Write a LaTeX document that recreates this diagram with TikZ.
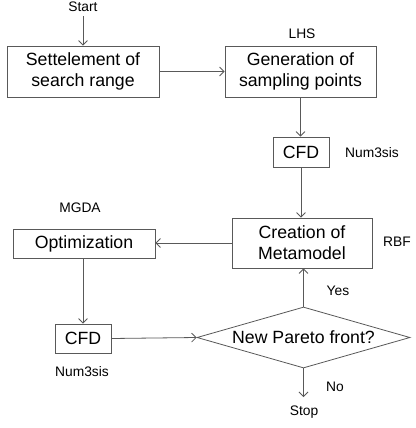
\documentclass[tikz,border=0pt]{standalone}
\usepackage{fontspec}
\setmainfont{Liberation Sans}
\usetikzlibrary{arrows.meta,shapes.geometric}
\begin{document}
\begin{tikzpicture}[x=1pt,y=-1pt,
  linec/.style={draw=black!65, line width=0.8pt},
  box/.style={linec, rectangle, inner sep=0pt, align=center,
    font=\fontsize{17.7}{21}\selectfont},
  lbl/.style={inner sep=0pt, font=\fontsize{13.8}{16}\selectfont},
  arr/.style={linec, -{Straight Barb[length=4.5pt,width=9pt]}}
]
\useasboundingbox (0,0) rectangle (415,428);
% boxes
\node[box, minimum width=152, minimum height=51] (b1) at (83,71.5) {Settelement of\\search range};
\node[box, minimum width=151, minimum height=51] (b2) at (300.5,71.5) {Generation of\\sampling points};
\node[box, minimum width=56, minimum height=30] (cfd1) at (301,152) {CFD};
\node[box, minimum width=140, minimum height=50] (meta) at (302,243) {Creation of\\Metamodel};
\node[box, minimum width=142, minimum height=29] (opt) at (84,243.5) {Optimization};
\node[box, minimum width=56, minimum height=29] (cfd2) at (83,338.5) {CFD};
\node[box, shape=diamond, aspect=3.5, minimum width=213, minimum height=61] (dia) at (303.5,337.5) {New Pareto front?};
% labels
\node[lbl] (start) at (83,7) {Start};
\node[lbl] (lhs) at (302,34) {LHS};
\node[lbl] (n1) at (372,153) {Num3sis};
\node[lbl] (mgda) at (80,208) {MGDA};
\node[lbl] (rbf) at (397,242) {RBF};
\node[lbl] (n2) at (82,372) {Num3sis};
\node[lbl] (yes) at (338,291) {Yes};
\node[lbl] (no) at (335,387) {No};
\node[lbl] (stop) at (304,412) {Stop};
% connectors
\draw[arr] ([yshift=-4pt]start.south) -- (b1.north);
\draw[arr] (b1.east) -- (b2.west);
\draw[arr] (b2.south) -- (b2.south |- cfd1.north);
\draw[arr] (cfd1.south) -- (cfd1.south |- meta.north);
\draw[arr] (meta.west) -- (opt.east |- meta.west);
\draw[arr] (opt.south -| cfd2.north) -- (cfd2.north);
\draw[arr] (cfd2.east) -- (dia.west);
\draw[arr] (dia.north) -- (dia.north |- meta.south);
\draw[arr] (dia.south) -- (dia.south |- 0,397);
\end{tikzpicture}
\end{document}
